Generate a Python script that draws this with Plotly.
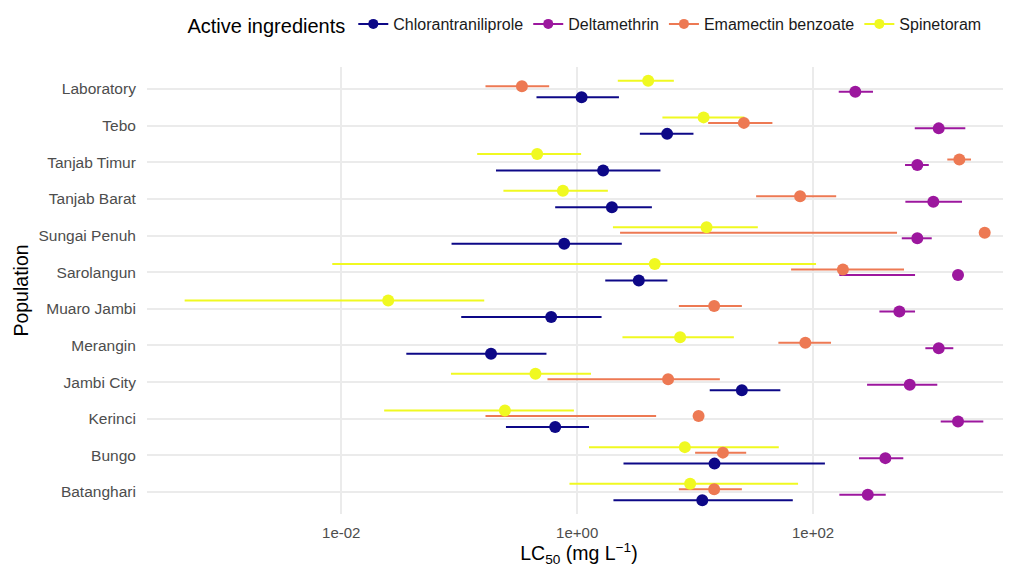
import plotly.graph_objects as go

# Populations, bottom (index 0) to top
populations = ["Batanghari", "Bungo", "Kerinci", "Jambi City", "Merangin", "Muaro Jambi",
               "Sarolangun", "Sungai Penuh", "Tanjab Barat", "Tanjab Timur", "Tebo", "Laboratory"]

ingredients = ["Chlorantraniliprole", "Deltamethrin", "Emamectin benzoate", "Spinetoram"]
colors = ["#0D0887", "#9C179E", "#ED7953", "#F0F921"]

# LC50 values (mg/L) with lower / upper limits, in population order above
chlor_lc50 = [11.5, 14.6, 0.651, 24.9, 0.186, 0.602, 3.33, 0.776, 1.97, 1.66, 5.79, 1.09]
chlor_low = [2.03, 2.47, 0.249, 13.3, 0.0356, 0.104, 1.73, 0.0861, 0.651, 0.205, 3.40, 0.452]
chlor_high = [67.3, 126, 1.26, 52.8, 0.549, 1.61, 5.82, 2.39, 4.30, 5.08, 9.68, 2.26]

delta_lc50 = [291, 410, 1694, 660, 1162, 539, 1694, 765, 1046, 765, 1162, 228]
delta_low = [167, 245, 1208, 287, 895, 365, 167, 565, 606, 602, 728, 165]
delta_high = [413, 582, 2775, 1130, 1545, 732, 732, 1014, 1832, 957, 1953, 322]

emam_lc50 = [14.5, 17.2, 10.7, 5.90, 86.0, 14.5, 179, 2851, 77.6, 1738, 25.9, 0.340]
emam_low = [7.28, 10.0, 0.167, 0.560, 50.8, 7.28, 65.1, 2.31, 32.9, 1374, 12.9, 0.167]
emam_high = [24.9, 27.1, 4.67, 16.2, 142, 24.9, 590, 515, 157, 2183, 45.2, 0.579]

spin_lc50 = [9.07, 8.18, 0.244, 0.443, 7.46, 0.0250, 4.55, 12.5, 0.757, 0.458, 11.8, 4.00]
spin_low = [0.860, 1.26, 0.0231, 0.0851, 2.42, 0.000470, 0.00839, 2.01, 0.237, 0.142, 5.28, 2.21]
spin_high = [74.6, 51.2, 0.938, 1.31, 21.3, 0.163, 106, 34.0, 1.82, 1.08, 26.2, 6.60]

x_tickvals = [0.01, 1, 100]
x_ticktext = ["1e-02", "1e+00", "1e+02"]

series = [
    (chlor_lc50, chlor_low, chlor_high),
    (delta_lc50, delta_low, delta_high),
    (emam_lc50, emam_low, emam_high),
    (spin_lc50, spin_low, spin_high),
]

dodge_width = 0.6
n = len(ingredients)
offsets = [(-dodge_width / 2 + dodge_width / n * (k + 0.5)) for k in range(n)]

FONT = "Liberation Sans, Arial, sans-serif"
fig = go.Figure()

# error bars first
for k, (name, col, (pt, lo, hi)) in enumerate(zip(ingredients, colors, series)):
    xs, ys = [], []
    for i in range(len(populations)):
        yv = i + offsets[k]
        xs += [lo[i], hi[i], None]
        ys += [yv, yv, None]
    fig.add_trace(go.Scatter(x=xs, y=ys, mode="lines", line=dict(color=col, width=2),
                             showlegend=False, hoverinfo="skip", legendgroup=name))

# points
for k, (name, col, (pt, lo, hi)) in enumerate(zip(ingredients, colors, series)):
    ys = [i + offsets[k] for i in range(len(populations))]
    fig.add_trace(go.Scatter(x=pt, y=ys, mode="markers", marker=dict(color=col, size=12),
                             showlegend=False, legendgroup=name, name=name))

# legend entries
for name, col in zip(ingredients, colors):
    fig.add_trace(go.Scatter(x=[None], y=[None], mode="lines+markers", name=name,
                             line=dict(color=col, width=2), marker=dict(color=col, size=10),
                             legendgroup=name))

# page body has an 8px default margin; figure sized to fit the window
fig.update_layout(
    width=1003, height=559,
    margin=dict(l=139, r=0, t=59, b=53, autoexpand=False),
    plot_bgcolor="white", paper_bgcolor="white",
    font=dict(family=FONT, color="black"),
    legend=dict(orientation="h", x=0.508, xanchor="center", y=1.094, yanchor="middle",
                title=dict(text="Active ingredients", font=dict(size=20, color="black"), side="left"),
                font=dict(size=16, color="#1A1A1A"), itemwidth=30),
    xaxis=dict(type="log", range=[-3.647, 3.678], tickvals=x_tickvals, ticktext=x_ticktext,
               showgrid=True, gridcolor="#EBEBEB", gridwidth=1.5, zeroline=False, showline=False,
               ticks="outside", ticklen=5, tickcolor="rgba(0,0,0,0)",
               tickfont=dict(size=15, color="#4D4D4D"), automargin=True,
               title=dict(text="LC<sub>50</sub> (mg L<sup>−1</sup>)", font=dict(size=19.5), standoff=10)),
    yaxis=dict(range=[-0.6, 11.6], tickvals=list(range(len(populations))), ticktext=populations,
               showgrid=True, gridcolor="#EBEBEB", gridwidth=1.5, zeroline=False, showline=False,
               ticks="outside", ticklen=7, tickcolor="rgba(0,0,0,0)",
               tickfont=dict(size=15.5, color="#4D4D4D"), automargin=False,
               title=dict(text="Population", font=dict(size=19.5), standoff=4)),
)

fig.write_html("out.html")
